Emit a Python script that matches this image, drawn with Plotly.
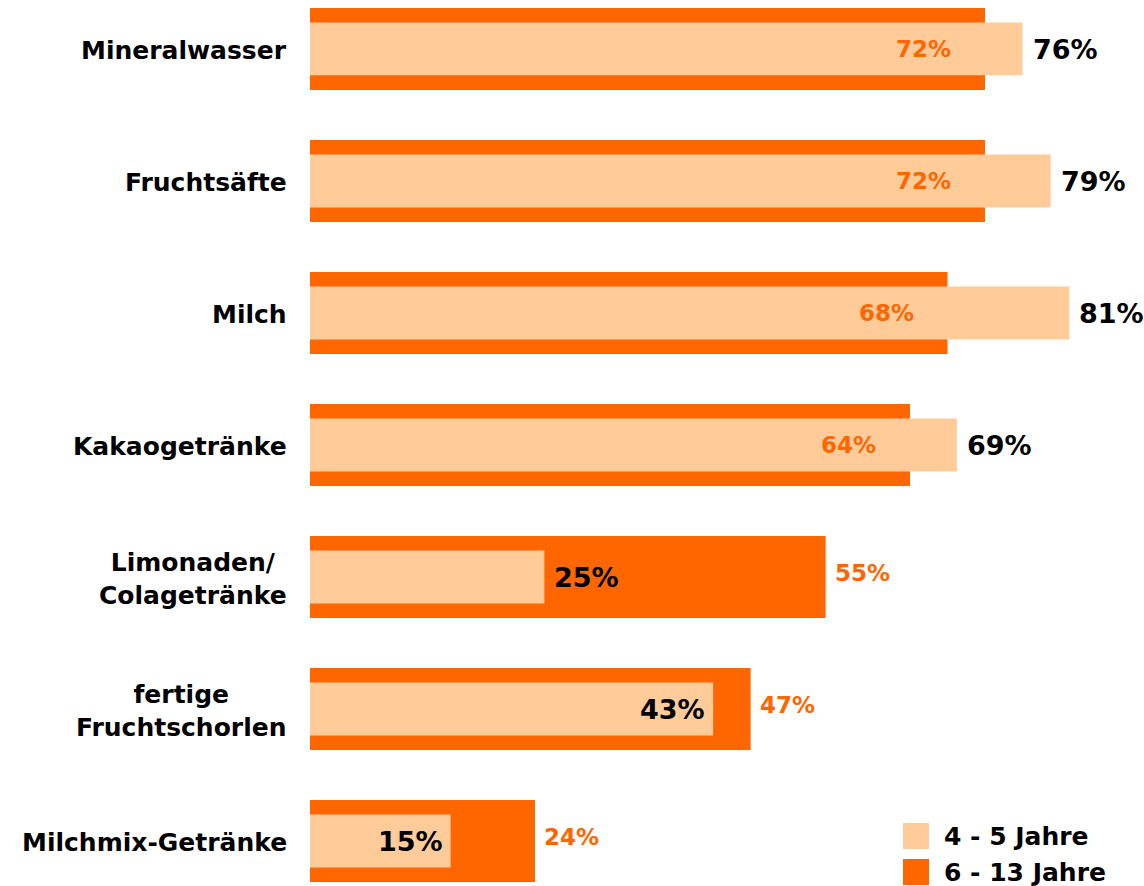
import plotly.graph_objects as go

categories = ["Mineralwasser", "Fruchtsäfte", "Milch", "Kakaogetränke",
              "Limonaden/<br>Colagetränke", "fertige<br>Fruchtschorlen", "Milchmix-Getränke"]
kids_4_5 = [76, 79, 81, 69, 25, 43, 15]
kids_6_13 = [72, 72, 68, 64, 55, 47, 24]
series_names = ["4 - 5 Jahre", "6 - 13 Jahre"]
label_4_5_inside = [False, False, False, False, False, True, True]
label_6_13_inside = [True, True, True, True, False, False, False]

LIGHT = "#FFCC99"
DARK = "#FF6600"
FONT = "DejaVu Sans"

pos = list(range(len(categories)))

fig = go.Figure()
fig.add_trace(go.Bar(x=kids_6_13, y=pos, orientation="h", width=0.62,
                     marker=dict(color=DARK, line=dict(width=0)),
                     name=series_names[1], showlegend=False, hoverinfo="x"))
fig.add_trace(go.Bar(x=kids_4_5, y=pos, orientation="h", width=0.40,
                     marker=dict(color=LIGHT, line=dict(width=0)),
                     name=series_names[0], showlegend=False, hoverinfo="x"))

annotations = []
for i, cat in enumerate(categories):
    annotations.append(dict(x=0, y=i, xref="x", yref="y", text="<b>%s</b>" % cat,
                            xanchor="right", yanchor="middle", align="center",
                            xshift=-21, yshift=-2, showarrow=False,
                            font=dict(family=FONT, size=25, color="black")))
    # 6-13 label
    v = kids_6_13[i]
    if label_6_13_inside[i]:
        annotations.append(dict(x=v, y=i, xref="x", yref="y", text="<b>%d%%</b>" % v,
                                xanchor="right", yanchor="middle", xshift=-32,
                                showarrow=False, font=dict(family=FONT, size=23, color=DARK)))
    else:
        annotations.append(dict(x=v, y=i, xref="x", yref="y", text="<b>%d%%</b>" % v,
                                xanchor="left", yanchor="middle", xshift=7, yshift=4,
                                showarrow=False, font=dict(family=FONT, size=23, color=DARK)))
    # 4-5 label
    v = kids_4_5[i]
    if label_4_5_inside[i]:
        annotations.append(dict(x=v, y=i, xref="x", yref="y", text="<b>%d%%</b>" % v,
                                xanchor="right", yanchor="middle", xshift=-6, yshift=-1,
                                showarrow=False, font=dict(family=FONT, size=27, color="black")))
    else:
        annotations.append(dict(x=v, y=i, xref="x", yref="y", text="<b>%d%%</b>" % v,
                                xanchor="left", yanchor="middle", xshift=8, yshift=-1,
                                showarrow=False, font=dict(family=FONT, size=27, color="black")))

H = 886.0
shapes = []
for k, (col, name, cy) in enumerate([(LIGHT, series_names[0], 836), (DARK, series_names[1], 872)]):
    shapes.append(dict(type="rect", xref="paper", yref="paper",
                       x0=(903 - 310) / 825.0, x1=(929 - 310) / 825.0,
                       y0=1 - (cy + 13) / H, y1=1 - (cy - 13) / H,
                       fillcolor=col, line=dict(width=0)))
    annotations.append(dict(x=(942 - 310) / 825.0, y=1 - cy / H, xref="paper", yref="paper",
                            text="<b>%s</b>" % name, xanchor="left", yanchor="middle",
                            showarrow=False, font=dict(family=FONT, size=25, color="black")))

fig.update_layout(
    width=1144, height=886,
    margin=dict(l=310, r=9, t=0, b=0),
    barmode="overlay",
    plot_bgcolor="white", paper_bgcolor="white",
    xaxis=dict(range=[0, 88], visible=False, fixedrange=True),
    yaxis=dict(range=[6.341, -0.371], visible=False, fixedrange=True),
    annotations=annotations, shapes=shapes,
    showlegend=False,
)
fig.write_html("out.html", config={"displayModeBar": False},
               post_script="document.body.style.margin='0px';")
